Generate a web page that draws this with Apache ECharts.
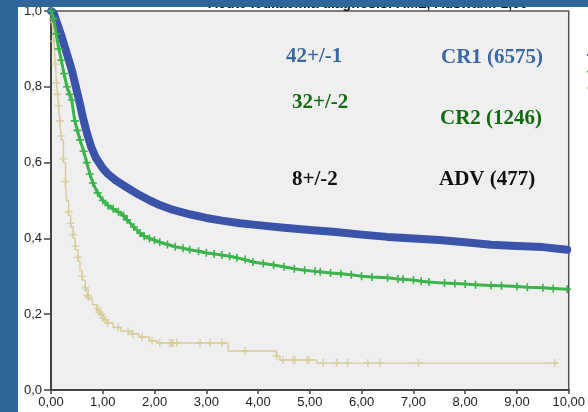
<!DOCTYPE html>
<html>
<head>
<meta charset="utf-8">
<script src="https://cdn.jsdelivr.net/npm/echarts@6/dist/echarts.min.js"></script>
<style>
html,body{margin:0;padding:0;background:#fff;}
#c{width:588px;height:412px;}
</style>
</head>
<body>
<div id="c"></div>
<script>
// ---- data (years, cumulative survival) ----
var xTicks = [0,1,2,3,4,5,6,7,8,9,10];
var yTicks = [0,0.2,0.4,0.6,0.8,1.0];

var cr1Curve = [[0,1.0],[0.05,0.995],[0.1,0.975],[0.2,0.935],[0.3,0.89],[0.4,0.845],[0.48,0.80],[0.55,0.76],[0.62,0.717],[0.7,0.675],[0.78,0.64],[0.87,0.612],[1.0,0.585],[1.1,0.57],[1.25,0.553],[1.47,0.534],[1.7,0.515],[1.91,0.50],[2.1,0.488],[2.36,0.475],[2.7,0.463],[3.0,0.454],[3.3,0.447],[3.65,0.44],[4.0,0.435],[4.5,0.428],[5.0,0.422],[5.5,0.417],[6.0,0.41],[6.5,0.404],[7.0,0.40],[7.5,0.396],[8.0,0.39],[8.5,0.383],[9.0,0.38],[9.5,0.377],[9.97,0.37]];

var cr2Curve = [[0,1.0],[0.05,0.98],[0.1,0.94],[0.15,0.90],[0.2,0.87],[0.25,0.835],[0.31,0.80],[0.36,0.78],[0.4,0.765],[0.46,0.71],[0.51,0.685],[0.56,0.66],[0.63,0.63],[0.69,0.60],[0.75,0.57],[0.81,0.546],[0.9,0.52],[1.0,0.50],[1.1,0.487],[1.2,0.478],[1.3,0.47],[1.4,0.46],[1.47,0.449],[1.6,0.43],[1.72,0.414],[1.8,0.406],[1.9,0.40],[2.0,0.395],[2.1,0.39],[2.25,0.384],[2.4,0.378],[2.55,0.374],[2.68,0.37],[2.85,0.366],[3.0,0.362],[3.15,0.359],[3.3,0.356],[3.45,0.353],[3.59,0.349],[3.75,0.344],[3.9,0.338],[4.1,0.334],[4.3,0.33],[4.5,0.325],[4.7,0.32],[4.9,0.316],[5.1,0.313],[5.2,0.312],[5.4,0.309],[5.6,0.307],[5.8,0.304],[6.0,0.30],[6.2,0.298],[6.5,0.296],[6.7,0.293],[6.8,0.292],[7.0,0.29],[7.15,0.287],[7.3,0.285],[7.6,0.282],[7.8,0.281],[8.0,0.28],[8.2,0.278],[8.5,0.276],[8.7,0.275],[9.0,0.273],[9.2,0.271],[9.5,0.27],[9.7,0.268],[9.97,0.266]];

var advCurve = [[0,1.0],[0.03,0.96],[0.06,0.91],[0.09,0.85],[0.11,0.80],[0.14,0.76],[0.17,0.71],[0.2,0.66],[0.24,0.60],[0.28,0.54],[0.3,0.50],[0.34,0.46],[0.38,0.43],[0.43,0.40],[0.47,0.37],[0.52,0.34],[0.56,0.315],[0.6,0.29],[0.66,0.265],[0.72,0.24],[0.8,0.225],[0.88,0.21],[0.95,0.20],[1.02,0.185],[1.08,0.177],[1.2,0.165],[1.35,0.155],[1.55,0.148],[1.7,0.14],[1.9,0.13],[2.05,0.124],[3.42,0.103],[4.35,0.09],[4.42,0.079],[5.13,0.071],[9.79,0.071]];

var advCensored = [[0.03,0.97],[0.06,0.92],[0.09,0.86],[0.11,0.81],[0.13,0.78],[0.15,0.75],[0.17,0.71],[0.2,0.67],[0.24,0.61],[0.28,0.55],[0.34,0.47],[0.38,0.44],[0.43,0.41],[0.47,0.38],[0.52,0.35],[0.6,0.30],[0.66,0.27],[0.7,0.25],[0.72,0.245],[0.9,0.215],[0.93,0.205],[0.97,0.20],[1.0,0.19],[1.05,0.185],[1.1,0.177],[1.3,0.165],[1.49,0.155],[1.58,0.148],[1.76,0.14],[1.95,0.13],[2.10,0.124],[2.30,0.124],[2.34,0.124],[2.36,0.124],[2.43,0.124],[2.88,0.124],[3.07,0.124],[3.30,0.124],[3.75,0.103],[4.36,0.09],[4.48,0.079],[4.67,0.079],[4.71,0.079],[4.94,0.079],[4.98,0.079],[5.25,0.071],[5.52,0.071],[5.73,0.071],[6.12,0.071],[6.35,0.071],[7.10,0.071],[9.73,0.071]];

var groupNames = ['CR1','CR2','ADV'];
var annotations = [
  {text:'42+/-1', x:286, y:57, color:'#3a68a2'},
  {text:'CR1 (6575)', x:441, y:58, color:'#3a68a2'},
  {text:'32+/-2', x:292, y:103, color:'#116b11'},
  {text:'CR2 (1246)', x:440, y:119, color:'#116b11'},
  {text:'8+/-2', x:292, y:180, color:'#111111'},
  {text:'ADV (477)', x:439, y:180, color:'#111111'}
];
var titleText = 'Acute leukaemia diagnosis: AML, Auswahl: 1,00';

var plusPath = 'path://M4,0H6V4H10V6H6V10H4V6H0V4H4Z';

var chart = echarts.init(document.getElementById('c'), null, {renderer:'canvas'});

var graphics = [
  {type:'text', left:208, top:-3, z:10, style:{text:titleText, font:'bold 14px "Liberation Sans", Arial, sans-serif', fill:'#111'}},
  {type:'rect', shape:{x:0,y:0,width:588,height:7}, style:{fill:'#2f6599'}, z:20},
  {type:'rect', shape:{x:0,y:0,width:18,height:412}, style:{fill:'#2f6599'}, z:20}
];
annotations.forEach(function(a){
  graphics.push({type:'text', x:a.x, y:a.y, z:15,
    style:{text:a.text, font:'bold 21px "Liberation Serif", "Times New Roman", serif', fill:a.color, verticalAlign:'middle'}});
});

var option = {
  animation:false,
  backgroundColor:'#ffffff',
  grid:{left:51, right:19, top:11, bottom:22, show:true, backgroundColor:'#efefef', borderColor:'#555', borderWidth:1.5},
  legend:{
    data:groupNames, orient:'vertical', left:582, top:43,
    icon:'rect', itemWidth:20, itemHeight:2, itemGap:2.5,
    textStyle:{fontSize:12, lineHeight:14, color:'#333'}
  },
  xAxis:{
    type:'value', min:0, max:10, interval:1,
    axisLine:{show:true, onZero:false, lineStyle:{color:'#444', width:2}},
    axisTick:{show:true, length:4, lineStyle:{color:'#444', width:1.5}},
    splitLine:{show:false},
    axisLabel:{margin:6, color:'#222', fontSize:13, fontFamily:'"Liberation Sans", Arial, sans-serif',
      formatter:function(v){return v.toFixed(2).replace('.',',');}}
  },
  yAxis:{
    type:'value', min:0, max:1, interval:0.2,
    axisLine:{show:true, onZero:false, lineStyle:{color:'#444', width:2}},
    axisTick:{show:true, length:7, lineStyle:{color:'#444', width:1.5}},
    splitLine:{show:false},
    axisLabel:{margin:9, color:'#222', fontSize:13, fontFamily:'"Liberation Sans", Arial, sans-serif',
      formatter:function(v){return v.toFixed(1).replace('.',',');}}
  },
  series:[
    {name:'CR1', type:'line', data:cr1Curve, showSymbol:false, smooth:false, z:3,
      lineStyle:{color:'#3b54aa', width:8, join:'round', cap:'round'}, itemStyle:{color:'#3b54aa'}},
    {name:'CR2', type:'line', data:cr2Curve, showSymbol:true, symbol:plusPath, symbolSize:8, smooth:false, z:4,
      lineStyle:{color:'#3cb44c', width:3, join:'round'}, itemStyle:{color:'#3cb44c'}},
    {name:'ADV', type:'line', data:advCurve, step:'end', showSymbol:false, z:2,
      lineStyle:{color:'#d6cd9a', width:1.4}, itemStyle:{color:'#d6cd9a'}},
    {name:'ADV', type:'scatter', data:advCensored, symbol:plusPath, symbolSize:8, z:2,
      itemStyle:{color:'#d6cd9a'}}
  ],
  graphic:graphics
};
chart.setOption(option);
</script>
</body>
</html>
